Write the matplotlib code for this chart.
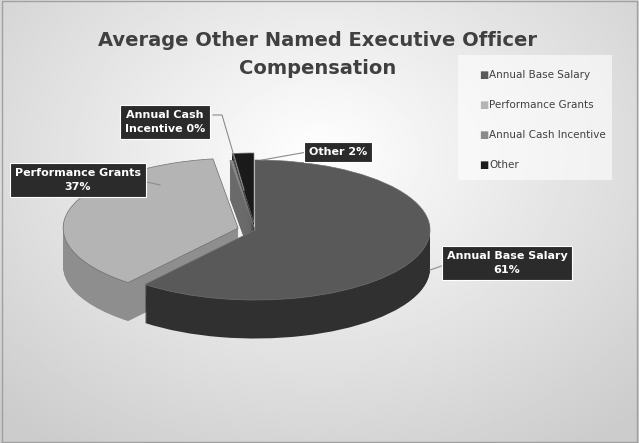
import matplotlib.pyplot as plt
import numpy as np
from matplotlib.lines import Line2D
from matplotlib.patches import Rectangle

labels = ["Annual Base Salary", "Performance Grants", "Annual Cash Incentive", "Other"]
values = [61, 37, 0.3, 2]
explode = [0, 0.1, 0, 0.1]
top_colors = ["#595959", "#b4b4b4", "#8a8a8a", "#1a1a1a"]
side_colors = ["#303030", "#8e8e8e", "#6a6a6a", "#0a0a0a"]
data_labels = ["Annual Base Salary\n61%", "Performance Grants\n37%", "Annual Cash\nIncentive 0%", "Other 2%"]

W, H = 639, 443
fig = plt.figure(figsize=(W / 100, H / 100), dpi=100)

# radial gray background
bg = fig.add_axes([0, 0, 1, 1])
yy, xx = np.mgrid[0:1:200j, 0:1:300j]
r = np.sqrt(((xx - 0.5) * 1.1) ** 2 + (yy - 0.35) ** 2)
bg.imshow(1 - 0.2 * np.clip(r / 0.8, 0, 1), cmap="gray", vmin=0, vmax=1,
          extent=[0, 1, 0, 1], aspect="auto", origin="upper")
bg.plot([0.003, 0.997, 0.997, 0.003, 0.003], [0.003, 0.003, 0.997, 0.997, 0.003],
        color="#a0a0a0", lw=1)
bg.add_patch(Rectangle((458 / W, 1 - 180 / H), 154 / W, 125 / H, fc="white", ec="none", alpha=0.6))
bg.set_xlim(0, 1); bg.set_ylim(0, 1); bg.axis("off")

def px(x, y):
    return x / W, 1 - y / H

# pie axes: centre (255,230) px, rx 175 px, ry 70 px
cy, ry = 230, 70
left, right, top, bottom = 80, 430, 140, 345
ax = fig.add_axes([left / W, 1 - bottom / H, (right - left) / W, (bottom - top) / H])
depth = 0.55
for off in np.linspace(depth, 0.01, 40):
    ax.pie(values, explode=explode, colors=side_colors, startangle=90,
           counterclock=False, center=(0, -off), wedgeprops=dict(linewidth=0))
ax.pie(values, explode=explode, colors=top_colors, startangle=90,
       counterclock=False, wedgeprops=dict(linewidth=0.5, edgecolor="#707070"))
ax.set_aspect("auto")
ax.set_xlim(-1, 1)
ax.set_ylim(-(bottom - cy) / ry, (cy - top) / ry)
ax.axis("off")

# title
fig.text(*px(318, 40), "Average Other Named Executive Officer", ha="center", va="center",
         fontsize=14, fontweight="bold", color="#404040")
fig.text(*px(318, 68), "Compensation", ha="center", va="center",
         fontsize=14, fontweight="bold", color="#404040")

# legend
for i, lab in enumerate(labels):
    y = 75 + i * 30
    fig.text(*px(479, y), "\u25a0", ha="left", va="center", fontsize=7, color=top_colors[i])
    fig.text(*px(489, y), lab, ha="left", va="center", fontsize=7.5, color="#404040")

# data labels with leader lines
box_pos = [(507, 263), (78, 180), (165, 122), (338, 152)]
line_pts = [[(450, 263), (430, 270)], [(138, 180), (160, 185)],
            [(213, 115), (222, 115), (244, 190)], [(307, 152), (262, 160)]]
for txt, (bx, by), pts in zip(data_labels, box_pos, line_pts):
    fig.text(*px(bx, by), txt, ha="center", va="center", fontsize=8, fontweight="bold",
             color="white", linespacing=1.4,
             bbox=dict(boxstyle="square,pad=0.45", fc="#2b2b2b", ec="white", lw=0.8))
    xs = [p[0] / W for p in pts]
    ys = [1 - p[1] / H for p in pts]
    fig.add_artist(Line2D(xs, ys, color="#8c8c8c", lw=0.8))

fig.savefig("out.png", dpi=100)
